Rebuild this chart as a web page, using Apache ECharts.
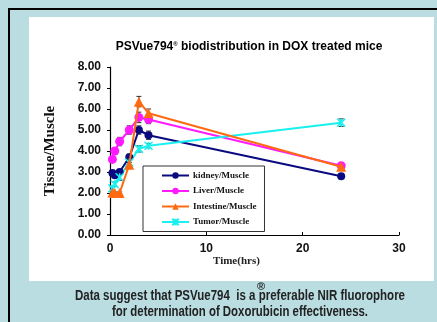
<!DOCTYPE html>
<html><head><meta charset="utf-8">
<script src="https://cdn.jsdelivr.net/npm/echarts@6/dist/echarts.min.js"></script>
<style>html,body{margin:0;padding:0;}#c{width:437px;height:322px;}</style>
</head><body><div id="c"></div>
<script>
const times = [0.25, 0.5, 1, 2, 3, 4, 24];
const kidney = [2.95, 2.85, 3.0, 3.7, 5.0, 4.75, 2.8];
const liver = [3.6, 4.0, 4.45, 5.0, 5.6, 5.5, 3.3];
const intestine = [2.02, 2.0, 2.0, 3.35, 6.35, 5.8, 3.25];
const tumor = [2.22, 2.42, 2.75, 3.45, 4.1, 4.25, 5.35];
const kidneyErr = [0.12, 0.1, 0.12, 0.15, 0.2, 0.2, 0.1];
const liverErr = [0.12, 0.15, 0.2, 0.2, 0.25, 0.2, 0.1];
const intestineErr = [0.05, 0.05, 0.05, 0.1, 0.25, 0.2, 0.1];
const tumorErr = [0.1, 0.1, 0.15, 0.1, 0.15, 0.1, 0.18];
const seriesNames = ['kidney/Muscle', 'Liver/Muscle', 'Intestine/Muscle', 'Tumor/Muscle'];
const xTicks = [0, 10, 20, 30];
const note1 = 'Data suggest that PSVue794  is a preferable NIR fluorophore';
const note2 = 'for determination of Doxorubicin effectiveness.';

const noteFont = 'bold 15px "Liberation Sans"';
const cv = document.createElement('canvas').getContext('2d');
cv.font = noteFont;
const s1 = 330 / cv.measureText(note1).width;
const s2 = 256 / cv.measureText(note2).width;

const chart = echarts.init(document.getElementById('c'));
function pts(v){ return times.map((t,i)=>[t, v[i]]); }
function errs(v, e){ return times.map((t,i)=>[t, v[i]-e[i], v[i]+e[i]]); }
function errSeries(v, e){
  return {
    type: 'custom', silent: true, z: 1,
    data: errs(v, e),
    renderItem: function(params, api){
      const x = api.value(0);
      const lo = api.coord([x, api.value(1)]);
      const hi = api.coord([x, api.value(2)]);
      const w = 2.5;
      return {type: 'group', children: [
        {type:'line', shape:{x1:lo[0],y1:lo[1],x2:hi[0],y2:hi[1]}, style:{stroke:'#333',lineWidth:1}},
        {type:'line', shape:{x1:lo[0]-w,y1:lo[1],x2:lo[0]+w,y2:lo[1]}, style:{stroke:'#333',lineWidth:1}},
        {type:'line', shape:{x1:hi[0]-w,y1:hi[1],x2:hi[0]+w,y2:hi[1]}, style:{stroke:'#333',lineWidth:1}}
      ]};
    }
  };
}
const starPath = 'path://M0,0L10,10M10,0L0,10M5,0L5,10';
const option = {
  animation: false,
  backgroundColor: '#badde1',
  graphic: [
    {type:'rect', z:-10, shape:{x:8,y:8,width:429,height:2}, style:{fill:'#000'}},
    {type:'rect', z:-10, shape:{x:8,y:8,width:2,height:314}, style:{fill:'#000'}},
    {type:'rect', z:-10, shape:{x:29,y:17,width:405,height:264}, style:{fill:'#fff'}},
    {type:'text', left: 213, top: 256, style:{text:'Time(hrs)', font:'bold 11px "Liberation Serif"', fill:'#222'}},
    {type:'text', x: 240, y: 296, scaleX: s1, style:{text:note1, font:noteFont, fill:'#222', align:'center', verticalAlign:'middle'}},
    {type:'text', x: 261, y: 287, style:{text:'®', font:'bold 11px "Liberation Sans"', fill:'#222', align:'center', verticalAlign:'middle'}},
    {type:'text', x: 240, y: 312, scaleX: s2, style:{text:note2, font:noteFont, fill:'#222', align:'center', verticalAlign:'middle'}}
  ],
  title: {
    text: 'PSVue794{sup|®} biodistribution in DOX treated mice',
    left: 244, top: 36, textAlign: 'center',
    textStyle: {fontFamily:'Liberation Sans', fontWeight:'bold', fontSize:12, color:'#000',
      rich: {sup: {fontSize:6, fontWeight:'bold', verticalAlign:'top', padding:[0,0,6,0], color:'#000'}}}
  },
  grid: {left:110, right:38, top:67, bottom:87},
  xAxis: {
    type:'value', min:0, max:30, interval:10,
    axisLine:{show:true, lineStyle:{color:'#000', width:1.2}},
    axisTick:{show:true, inside:true, length:3, lineStyle:{color:'#000'}},
    splitLine:{show:false},
    axisLabel:{fontFamily:'Liberation Sans', fontWeight:'bold', fontSize:12, color:'#111', margin:8,
      formatter: v => xTicks.includes(v) ? String(v) : ''}
  },
  yAxis: {
    type:'value', min:0, max:8, interval:1,
    name:'Tissue/Muscle', nameLocation:'middle', nameGap:52, nameRotate:90,
    nameTextStyle:{fontFamily:'Liberation Serif', fontWeight:'bold', fontSize:15, color:'#111'},
    axisLine:{show:true, lineStyle:{color:'#000', width:1.2}},
    axisTick:{show:true, length:3, lineStyle:{color:'#000'}},
    splitLine:{show:false},
    axisLabel:{fontFamily:'Liberation Sans', fontWeight:'bold', fontSize:12, color:'#111', margin:9,
      formatter: v => v.toFixed(2)}
  },
  legend: {
    orient:'vertical', left:143, top:166,
    backgroundColor:'#fff', borderColor:'#333', borderWidth:1,
    padding:[5, 8, 5, 18], itemWidth:27, itemHeight:8, itemGap:6.5,
    textStyle:{fontFamily:'Liberation Serif', fontWeight:'bold', fontSize:9, color:'#111', padding:[0,0,0,-1]},
    data: seriesNames
  },
  series: [
    errSeries(kidney, kidneyErr), errSeries(liver, liverErr), errSeries(intestine, intestineErr), errSeries(tumor, tumorErr),
    {name:seriesNames[0], type:'line', z:3, data:pts(kidney), symbol:'circle', symbolSize:8,
      lineStyle:{color:'#0a0a80', width:2}, itemStyle:{color:'#0a0a80'}},
    {name:seriesNames[1], type:'line', z:3, data:pts(liver), symbol:'circle', symbolSize:9,
      lineStyle:{color:'#ff1aff', width:2}, itemStyle:{color:'#ff1aff'}},
    {name:seriesNames[2], type:'line', z:4, data:pts(intestine), symbol:'triangle', symbolSize:10,
      lineStyle:{color:'#ff6a10', width:2}, itemStyle:{color:'#ff6a10'}},
    {name:seriesNames[3], type:'line', z:3, data:pts(tumor), symbol:starPath, symbolSize:8,
      lineStyle:{color:'#1af0f0', width:2}, itemStyle:{color:'#1af0f0', borderColor:'#1af0f0', borderWidth:1.5}}
  ]
};
chart.setOption(option);
</script></body></html>
